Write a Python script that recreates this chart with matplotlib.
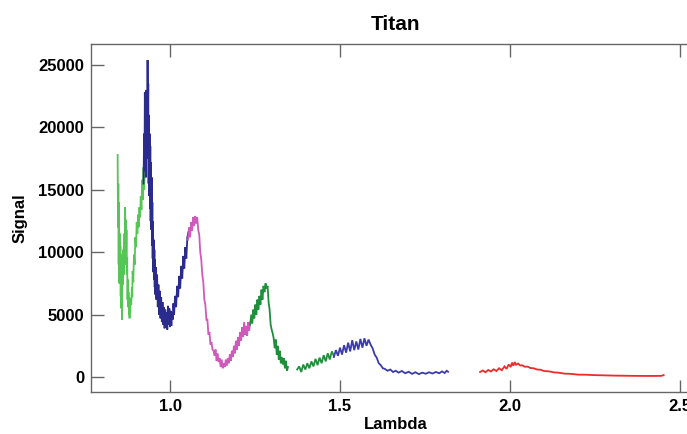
import matplotlib
matplotlib.use("Agg")
import matplotlib.pyplot as plt

plt.rcParams['font.family'] = ['Liberation Sans', 'DejaVu Sans']

# ---- data ----
seg1_lam = [0.846, 0.847, 0.848, 0.849, 0.850, 0.851, 0.852, 0.853, 0.854, 0.855,
            0.856, 0.857, 0.858, 0.859, 0.860, 0.861, 0.862, 0.864, 0.866, 0.867,
            0.868, 0.869, 0.870, 0.871, 0.872, 0.873, 0.874, 0.875, 0.876, 0.877,
            0.878, 0.879, 0.880, 0.881, 0.882, 0.883, 0.884, 0.886, 0.888, 0.889,
            0.890, 0.892, 0.894, 0.896, 0.898, 0.900, 0.902, 0.904, 0.906, 0.908,
            0.910, 0.912, 0.914, 0.916, 0.918, 0.920, 0.922, 0.924, 0.926]
seg1_sig = [17800, 12000, 15500, 9000, 14000, 7500, 11500, 8500, 10500, 6500,
            9800, 5500, 8000, 4600, 9200, 7400, 10200, 8200, 11500, 9000,
            13600, 10500, 12600, 9500, 11800, 8200, 9600, 6200, 7800, 5600,
            6800, 5000, 6400, 4700, 6000, 5200, 6300, 5800, 7200, 6400,
            8500, 7600, 9800, 9000, 11200, 10400, 12400, 11500, 13000, 12000,
            13600, 12800, 14500, 13400, 15800, 14200, 16800, 15000, 17000]

seg2_lam = [0.922, 0.924, 0.925, 0.926, 0.927, 0.928, 0.929, 0.930, 0.931, 0.932,
            0.933, 0.934, 0.935, 0.936, 0.937, 0.938, 0.939, 0.940, 0.941, 0.942,
            0.943, 0.944, 0.945, 0.946, 0.947, 0.948, 0.949, 0.950, 0.951, 0.952,
            0.953, 0.954, 0.955, 0.956, 0.957, 0.958, 0.960, 0.962, 0.964, 0.966,
            0.968, 0.970, 0.972, 0.974, 0.976, 0.978, 0.980, 0.982, 0.984, 0.986,
            0.988, 0.990, 0.992, 0.994, 0.996, 0.998, 1.000, 1.002, 1.004, 1.006,
            1.008, 1.010, 1.012, 1.015, 1.018, 1.021, 1.024, 1.027, 1.030, 1.033,
            1.036, 1.039, 1.042, 1.045, 1.048, 1.051, 1.054]
seg2_sig = [15500, 19500, 16500, 22800, 18000, 21500, 16000, 23000, 19000, 22000,
            17500, 25400, 20000, 23500, 15500, 21000, 14500, 19500, 13500, 18500,
            12500, 17200, 11800, 16000, 10500, 14000, 9500, 12500, 8400, 11000,
            7800, 10200, 7200, 9400, 6600, 8800, 6200, 8200, 5600, 7400,
            5000, 6900, 4700, 6400, 4400, 6000, 4200, 5600, 3900, 5400,
            4000, 5200, 3800, 5700, 4200, 5500, 4000, 5300, 4100, 5200,
            4600, 5900, 5000, 6500, 5600, 7300, 6400, 8100, 7100, 8900,
            7900, 9700, 8700, 10400, 9500, 11200, 11600]

seg3_lam = [1.053, 1.056, 1.059, 1.062, 1.065, 1.068, 1.071, 1.074, 1.077, 1.080,
            1.083, 1.086, 1.089, 1.092, 1.095, 1.098, 1.101, 1.104, 1.107, 1.110,
            1.113, 1.116, 1.119, 1.122, 1.125, 1.128, 1.131, 1.134, 1.137, 1.140,
            1.143, 1.146, 1.149, 1.152, 1.155, 1.158, 1.161, 1.164, 1.167, 1.170,
            1.173, 1.176, 1.179, 1.182, 1.185, 1.188, 1.191, 1.194, 1.197, 1.200,
            1.203, 1.206, 1.209, 1.212, 1.215, 1.218, 1.221, 1.224, 1.227, 1.230,
            1.233, 1.236]
seg3_sig = [11000, 12000, 11200, 12400, 11700, 12800, 12100, 12900, 12300, 12800,
            11800, 11400, 10000, 9400, 8200, 7600, 6200, 5800, 4600, 4600,
            3400, 3600, 2600, 2800, 2200, 2100, 1700, 2200, 1300, 1900,
            1200, 1500, 800, 1400, 700, 1100, 800, 1400, 900, 1500,
            1100, 1800, 1300, 2100, 1600, 2500, 1900, 2900, 2200, 3200,
            2500, 3600, 2900, 4000, 3200, 4400, 3400, 4100, 3300, 4400,
            3700, 4400]

seg4_lam = [1.236, 1.239, 1.242, 1.245, 1.248, 1.251, 1.254, 1.257, 1.260, 1.263,
            1.266, 1.269, 1.272, 1.275, 1.278, 1.281, 1.284, 1.287, 1.290, 1.293,
            1.296, 1.299, 1.302, 1.305, 1.308, 1.311, 1.314, 1.317, 1.320, 1.323,
            1.326, 1.329, 1.332, 1.335, 1.338, 1.341, 1.344, 1.347]
seg4_sig = [4200, 5000, 4300, 5400, 4700, 5800, 5000, 6200, 5400, 6500,
            5800, 7000, 6200, 7300, 6800, 7500, 7100, 7300, 6000, 5400,
            4200, 3800, 3500, 3100, 2300, 3000, 1800, 2500, 1400, 2100,
            1100, 1600, 1000, 1500, 700, 1300, 500, 800]

seg5_lam = [1.374, 1.380, 1.386, 1.392, 1.398, 1.404, 1.410, 1.416, 1.422, 1.428,
            1.434, 1.440, 1.446, 1.452, 1.458, 1.464, 1.470, 1.476, 1.482]
seg5_sig = [600, 850, 400, 1000, 600, 1100, 700, 1250, 850, 1450,
            950, 1550, 1100, 1750, 1250, 1900, 1400, 2050, 1700]

seg6_lam = [1.482, 1.488, 1.494, 1.500, 1.506, 1.512, 1.518, 1.524, 1.530, 1.536,
            1.542, 1.548, 1.554, 1.560, 1.566, 1.572, 1.578, 1.584, 1.590, 1.596,
            1.602, 1.608, 1.614, 1.620, 1.626, 1.632, 1.640, 1.648, 1.656, 1.664,
            1.672, 1.682, 1.692, 1.702, 1.712, 1.722, 1.732, 1.742, 1.752, 1.762,
            1.772, 1.782, 1.792, 1.800, 1.808, 1.814, 1.818]
seg6_sig = [1600, 2150, 1700, 2350, 1800, 2550, 1950, 2750, 2050, 2950,
            2150, 2850, 2200, 3050, 2350, 3100, 2500, 3000, 2600, 2300,
            1800, 1550, 1100, 950, 700, 650, 500, 600, 400, 500,
            350, 480, 300, 420, 250, 380, 230, 350, 260, 380,
            280, 400, 300, 450, 320, 500, 420]

seg7_lam = [1.912, 1.920, 1.928, 1.936, 1.944, 1.952, 1.960, 1.968, 1.976, 1.984,
            1.990, 1.996, 2.002, 2.006, 2.010, 2.014, 2.018, 2.024, 2.030, 2.036,
            2.044, 2.052, 2.060, 2.070, 2.080, 2.090, 2.100, 2.115, 2.130, 2.145,
            2.160, 2.180, 2.200, 2.225, 2.250, 2.280, 2.310, 2.340, 2.370, 2.400,
            2.425, 2.445, 2.452]
seg7_sig = [400, 520, 380, 560, 440, 620, 480, 700, 540, 850,
            650, 1000, 800, 1150, 900, 1200, 980, 1080, 920, 940,
            820, 830, 720, 700, 600, 580, 480, 450, 370, 340,
            270, 250, 190, 180, 150, 130, 110, 100, 90, 85,
            85, 90, 150]

segments = [
    (seg1_lam, seg1_sig, '#55c655'),
    (seg2_lam, seg2_sig, '#2b2b8e'),
    (seg3_lam, seg3_sig, '#cf5abb'),
    (seg4_lam, seg4_sig, '#1f8f3c'),
    (seg5_lam, seg5_sig, '#1f8f3c'),
    (seg6_lam, seg6_sig, '#3b3bab'),
    (seg7_lam, seg7_sig, '#ee2b2b'),
]

fig = plt.figure(figsize=(6.87, 4.34), dpi=100)
ax = fig.add_axes([91/687, 42/434, (700-91)/687, (392-44)/434])

for lam, sig, col in segments:
    ax.plot(lam, sig, color=col, lw=1.3, solid_joinstyle='miter')

ax.set_xlim(0.7676, 2.559)
ax.set_ylim(-1202, 26683)
ax.set_xticks([1.0, 1.5, 2.0, 2.5])
ax.set_xticklabels(['1.0', '1.5', '2.0', '2.5'])
ax.set_yticks([0, 5000, 10000, 15000, 20000, 25000])
ax.set_yticklabels(['0', '5000', '10000', '15000', '20000', '25000'])

for s in ax.spines.values():
    s.set_color('#666666')
    s.set_linewidth(1.0)
ax.tick_params(direction='in', length=9, width=1.0, color='#666666',
               top=True, right=True, labelsize=12, pad=5)
for lab in ax.get_xticklabels() + ax.get_yticklabels():
    lab.set_fontweight('bold')

ax.set_title('Titan', fontsize=15, fontweight='bold', pad=10)
ax.set_xlabel('Lambda', fontsize=12, fontweight='bold', labelpad=2)
ax.set_ylabel('Signal', fontsize=12, fontweight='bold', labelpad=8)

fig.savefig('out.png', dpi=100)
